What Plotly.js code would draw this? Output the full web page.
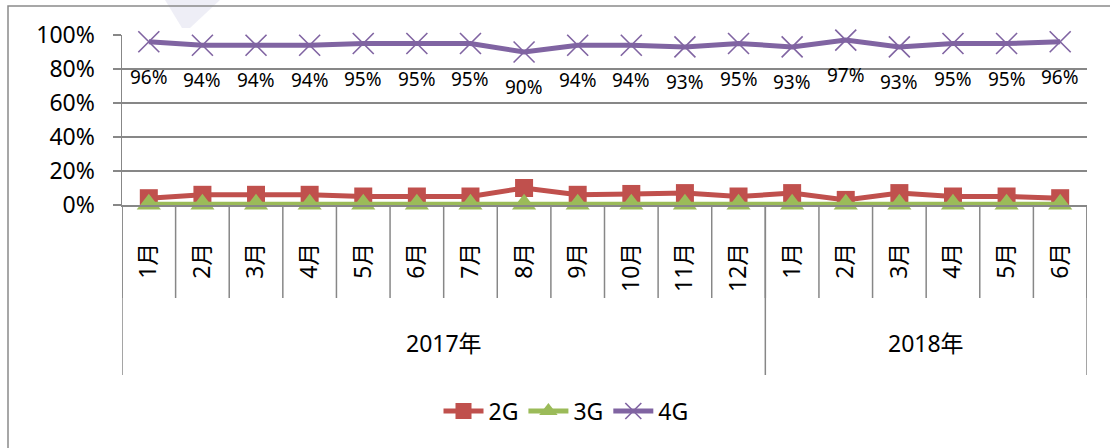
<!DOCTYPE html>
<html>
<head>
<meta charset="utf-8">
<script src="https://cdn.plot.ly/plotly-3.0.1.min.js"></script>
<style>html,body{margin:0;padding:0;background:#fff;}#chart{width:1110px;height:448px;}</style>
</head>
<body>
<div id="chart"></div>
<script>
// ---- data ----
var months = ["1月","2月","3月","4月","5月","6月","7月","8月","9月","10月","11月","12月","1月","2月","3月","4月","5月","6月"];
var years = ["2017年","2018年"];
var yearSpans = [12, 6];
var g2 = [0.04,0.06,0.06,0.06,0.05,0.05,0.05,0.10,0.06,0.065,0.07,0.05,0.07,0.03,0.07,0.05,0.05,0.04];
var g3 = [0.005,0.005,0.005,0.005,0.005,0.005,0.005,0.005,0.005,0.005,0.005,0.005,0.005,0.005,0.005,0.005,0.005,0.005];
var g4 = [0.96,0.94,0.94,0.94,0.95,0.95,0.95,0.90,0.94,0.94,0.93,0.95,0.93,0.97,0.93,0.95,0.95,0.96];
var seriesNames = ["2G","3G","4G"];

// ---- layout helpers ----
var W = 1110, H = 448, L = 122, R = 1087, T = 35, B = 205;
function px(x){ return (x - L) / (R - L); }
function py(y){ return (B - y) / (B - T); }
var FONT = "Noto Sans, Noto Sans CJK SC, sans-serif";
var GRID = "#878787";
var AX = 23;

var idx = months.map(function(_, i){ return i; });

var traces = [
  {x: idx, y: g2, name: seriesNames[0], type: "scatter", mode: "lines+markers",
   line: {color: "#C0504D", width: 5}, marker: {symbol: "square", size: 18, color: "#C0504D"}, cliponaxis: false},
  {x: idx, y: g3, name: seriesNames[1], type: "scatter", mode: "lines+markers",
   line: {color: "#9BBB59", width: 5}, marker: {symbol: "triangle-up", size: 21, color: "#9BBB59"}, cliponaxis: false},
  {x: idx, y: g4, name: seriesNames[2], type: "scatter", mode: "lines+markers",
   line: {color: "#8064A2", width: 5}, marker: {symbol: "x-thin-open", size: 21, color: "#8064A2", line: {color: "#8064A2", width: 1.6}}, cliponaxis: false}
];

var shapes = [];
// category separators
for (var i = 0; i <= months.length; i++) {
  shapes.push({type: "line", xref: "x", yref: "paper", x0: i - 0.5, x1: i - 0.5,
    y0: 0, y1: py(298), line: {color: GRID, width: 1.5}, layer: "below"});
}
// year group separators
var annotations = [];
var start = 0;
shapes.push({type: "line", xref: "x", yref: "paper", x0: -0.5, x1: -0.5, y0: 0, y1: py(375), line: {color: GRID, width: 1.5}});
years.forEach(function(yr, k){
  var end = start + yearSpans[k];
  shapes.push({type: "line", xref: "x", yref: "paper", x0: end - 0.5, x1: end - 0.5, y0: 0, y1: py(375), line: {color: GRID, width: 1.5}});
  annotations.push({xref: "x", yref: "paper", x: (start + end - 1) / 2, y: py(343), text: yr, showarrow: false,
    font: {family: FONT, size: AX, color: "#000"}, xanchor: "center", yanchor: "middle"});
  start = end;
});
// outer frame
shapes.push({type: "rect", xref: "paper", yref: "paper", x0: px(8), x1: px(1120), y0: py(6), y1: py(460),
  line: {color: "#8a8a8a", width: 1.5}, fillcolor: "rgba(0,0,0,0)"});
// faint watermark
shapes.push({type: "path", xref: "paper", yref: "paper", layer: "below",
  path: "M" + px(165) + "," + py(0) + " L" + px(182) + "," + py(28) + " L" + px(190) + "," + py(28) + " L" + px(220) + "," + py(0) + " Z",
  fillcolor: "rgba(205,205,228,0.35)", line: {width: 0}});

// 4G data labels
g4.forEach(function(v, i){
  annotations.push({xref: "x", yref: "y", x: i, y: v, text: Math.round(v * 100) + "%", showarrow: false,
    yshift: -35, font: {family: FONT, size: 19, color: "#000"}, xanchor: "center", yanchor: "middle"});
});

var layout = {
  width: W, height: H,
  margin: {l: L, r: W - R, t: T, b: H - B, pad: 0},
  paper_bgcolor: "#fff", plot_bgcolor: "#fff",
  font: {family: FONT, color: "#000"},
  showlegend: true,
  legend: {orientation: "h", xref: "paper", yref: "paper", x: px(566), y: py(411), xanchor: "center", yanchor: "middle",
    font: {family: FONT, size: AX, color: "#000"}, itemwidth: 40, bgcolor: "rgba(0,0,0,0)"},
  xaxis: {type: "linear", range: [-0.5, months.length - 0.5], tickmode: "array", tickvals: idx, ticktext: months,
    tickangle: -90, ticks: "", showgrid: false, zeroline: false, showline: true, linecolor: GRID, linewidth: 1.5,
    tickfont: {family: FONT, size: AX, color: "#000"}, ticklabelstandoff: 27, fixedrange: true},
  yaxis: {range: [0, 1], tickmode: "array", tickvals: [0, 0.2, 0.4, 0.6, 0.8, 1], tickformat: ".0%",
    showgrid: true, gridcolor: GRID, gridwidth: 1.5, zeroline: false, showline: true, linecolor: GRID, linewidth: 1.5,
    ticks: "outside", ticklen: 8, tickcolor: GRID, tickwidth: 1.5, ticklabelstandoff: 13,
    tickfont: {family: FONT, size: AX, color: "#000"}, fixedrange: true},
  shapes: shapes,
  annotations: annotations
};

Plotly.newPlot("chart", traces, layout, {displayModeBar: false, staticPlot: true});
</script>
</body>
</html>
